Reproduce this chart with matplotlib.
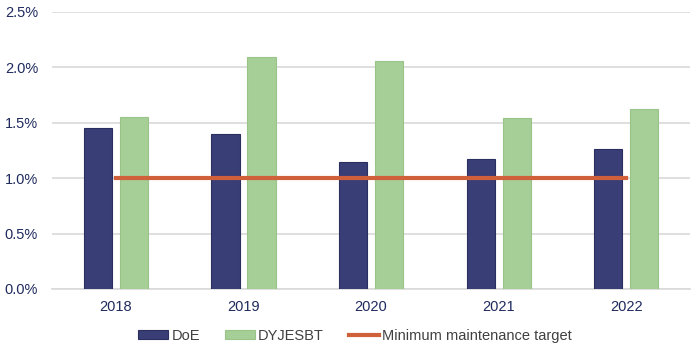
import numpy as np
import matplotlib
matplotlib.use('Agg')
from matplotlib import pyplot as plt
from matplotlib.ticker import FuncFormatter

years = ['2018', '2019', '2020', '2021', '2022']
doe = [1.45, 1.40, 1.15, 1.17, 1.26]
dyjesbt = [1.55, 2.09, 2.06, 1.54, 1.62]
target = [1.0, 1.0, 1.0, 1.0, 1.0]

plt.rcParams['font.family'] = ['Liberation Sans', 'DejaVu Sans']

navy = '#393e77'
green = '#a6ce97'
orange = '#d0603a'
tick_col = '#1f2a5e'

fig = plt.figure(figsize=(7, 3.63), dpi=100)
ax = fig.add_axes([0.0743, 0.204, 0.9117, 0.763])

x = np.arange(len(years))
w = 0.22
off = 0.141
b1 = ax.bar(x - off, doe, w, color=navy, edgecolor='#2a2f60', linewidth=0.8, label='DoE', zorder=3)
b2 = ax.bar(x + off, dyjesbt, w, color=green, edgecolor='#98c488', linewidth=0.8, label='DYJESBT', zorder=3)
l1, = ax.plot(x, target, color=orange, linewidth=3, label='Minimum maintenance target', zorder=4)

ax.set_xlim(-0.5, len(years) - 0.5)
ax.set_ylim(0, 2.5)
ax.set_yticks(np.arange(0, 2.51, 0.5))
ax.yaxis.set_major_formatter(FuncFormatter(lambda v, p: '%.1f%%' % v))
ax.set_xticks(x)
ax.set_xticklabels(years)
ax.tick_params(length=0, labelsize=10.5, colors=tick_col, pad=8)
ax.tick_params(axis='y', pad=10)
ax.grid(axis='y', color='#d9d9d9', linewidth=1.2, zorder=0)
ax.set_axisbelow(True)
for s in ['top', 'right', 'left']:
    ax.spines[s].set_visible(False)
ax.spines['bottom'].set_color('#d9d9d9')
ax.spines['bottom'].set_linewidth(1.2)

leg = fig.legend([b1, b2, l1], ['DoE', 'DYJESBT', 'Minimum maintenance target'],
                 loc='center', bbox_to_anchor=(0.507, 0.075), ncol=3, frameon=False,
                 fontsize=10.5, handlelength=2.1, handleheight=0.5, columnspacing=1.7,
                 handletextpad=0.2, labelcolor='#404040')

fig.savefig('out.png', dpi=100)
